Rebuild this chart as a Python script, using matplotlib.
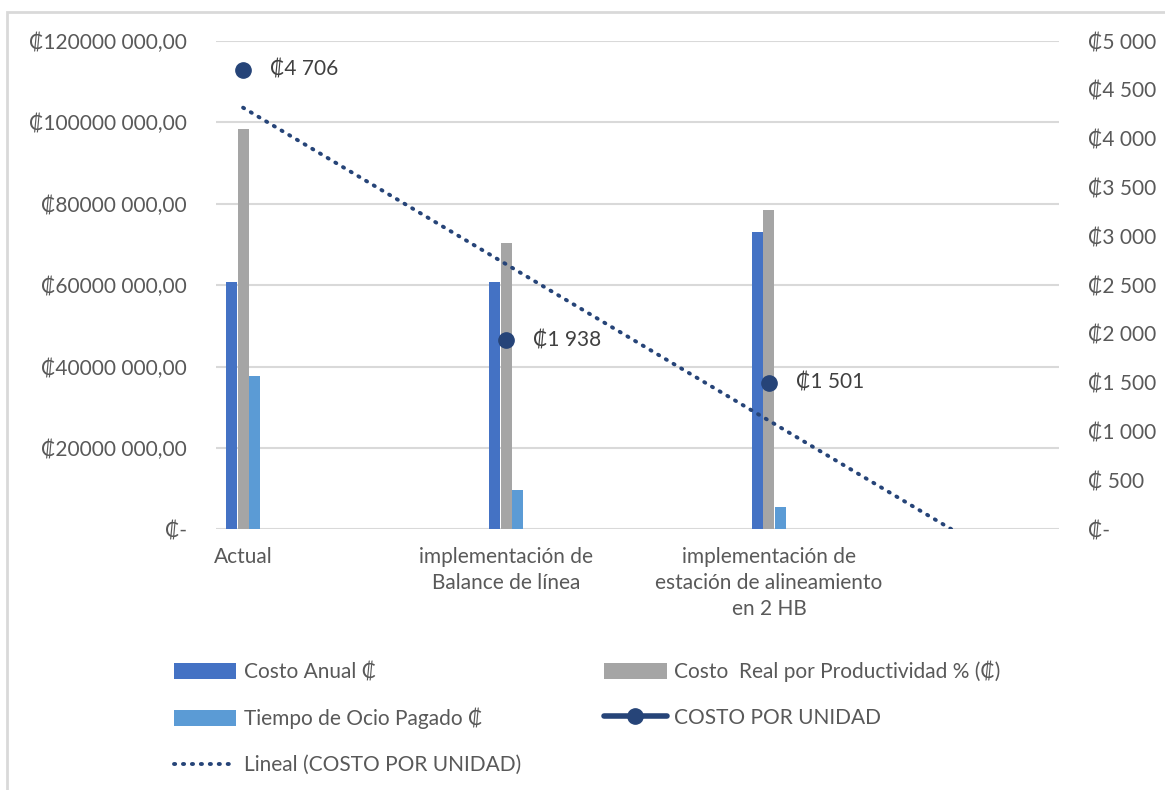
import numpy as np
import matplotlib.pyplot as plt
from matplotlib.patches import Rectangle
from matplotlib.ticker import FixedLocator, FuncFormatter

plt.rcParams['font.family'] = ['Lato', 'DejaVu Sans']

categorias = ['Actual', 'implementación de\nBalance de línea',
              'implementación de\nestación de alineamiento\nen 2 HB']
costo_anual = [60700000, 60700000, 73000000]
costo_real = [98350000, 70300000, 78400000]
tiempo_ocio = [37700000, 9700000, 5400000]
costo_unidad = [4706, 1938, 1501]

series_barras = [
    ('Costo Anual ₡', costo_anual, '#4472C4'),
    ('Costo  Real por Productividad % (₡)', costo_real, '#A5A5A5'),
    ('Tiempo de Ocio Pagado ₡', tiempo_ocio, '#5B9BD5'),
]

txt = '#595959'
grid = '#D9D9D9'
azul_osc = '#264478'
fs = 15

fig = plt.figure(figsize=(11.65, 7.9), dpi=100)
W, H = 1165, 790
ax = fig.add_axes([216 / W, 1 - 529.3 / H, (1059 - 216) / W, (529.3 - 41) / H])
ax2 = ax.twinx()

x = np.arange(len(categorias))
ancho = 0.042
handles = {}
for i, (nombre, vals, col) in enumerate(series_barras):
    handles[nombre] = ax.bar(x + (i - 1) * 0.0435, vals, ancho, color=col,
                             label=nombre, zorder=2)

# tendencia lineal con pronostico hacia adelante hasta cruzar cero
m, b = np.polyfit(x, costo_unidad, 1)
x_fin = -b / m
xt = np.array([0, x_fin])
lin, = ax2.plot(xt, m * xt + b, color=azul_osc, lw=2.8, ls=(0, (0.3, 2.0)),
                dash_capstyle='round', zorder=3)
ax2.plot(x, costo_unidad, color=azul_osc, ls='none', marker='o', ms=11,
         zorder=4)
for xi, v in zip(x, costo_unidad):
    ax2.annotate('₡%d %03d' % (v // 1000, v % 1000), (xi, v), xytext=(27, 0),
                 textcoords='offset pixels', va='center', ha='left',
                 fontsize=fs, color='#404040')

ax.set_xlim(-0.103, 3.103)
ax.set_ylim(0, 120000000)
ax2.set_ylim(0, 5000)
ax.yaxis.set_major_locator(FixedLocator(np.arange(0, 120000001, 20000000)))
ax2.yaxis.set_major_locator(FixedLocator(np.arange(0, 5001, 500)))


def fmt_izq(v, pos):
    v = int(round(v))
    if v == 0:
        return '₡-'
    return '₡%d %03d,00' % (v // 1000, v % 1000)


def fmt_der(v, pos):
    v = int(round(v))
    if v == 0:
        return '₡-'
    if v < 1000:
        return '₡ %d' % v
    return '₡%d %03d' % (v // 1000, v % 1000)


ax.yaxis.set_major_formatter(FuncFormatter(fmt_izq))
ax2.yaxis.set_major_formatter(FuncFormatter(fmt_der))
ax.set_xticks(x)
ax.set_xticklabels(categorias, fontsize=fs, color=txt, linespacing=1.35)
ax.tick_params(axis='x', length=0, pad=13)
ax.tick_params(axis='y', length=0, pad=21, labelsize=fs, labelcolor=txt)
ax2.tick_params(axis='y', length=0, pad=21, labelsize=fs, labelcolor=txt)
ax.grid(axis='y', color=grid, lw=1.5, zorder=0)
ax.set_axisbelow(True)
for a in (ax, ax2):
    for s in a.spines.values():
        s.set_visible(False)
ax.axhline(0, color=grid, lw=2, zorder=1)

etiquetas = ['Costo Anual ₡', 'Tiempo de Ocio Pagado ₡', 'Lineal (COSTO POR UNIDAD)',
             'Costo  Real por Productividad % (₡)', 'COSTO POR UNIDAD']
ln_leg, = ax2.plot([], [], color=azul_osc, lw=4, marker='o', ms=11,
                   solid_capstyle='round')
hs = [handles['Costo Anual ₡'], handles['Tiempo de Ocio Pagado ₡'], lin,
      handles['Costo  Real por Productividad % (₡)'], ln_leg]
fig.legend(hs, etiquetas, ncol=2, loc='upper left',
           bbox_to_anchor=(155 / W, 1 - 642 / H), frameon=False,
           fontsize=fs, labelcolor=txt, handlelength=3.0, handleheight=0.75,
           handletextpad=0.35, labelspacing=1.23, columnspacing=4.0)

fig.patches.append(Rectangle((7 / W, -0.01), 1.1, 1 - 12 / H + 0.01,
                             transform=fig.transFigure, fill=False,
                             edgecolor='#D9D9D9', lw=2))
fig.savefig('out.png', dpi=100)
